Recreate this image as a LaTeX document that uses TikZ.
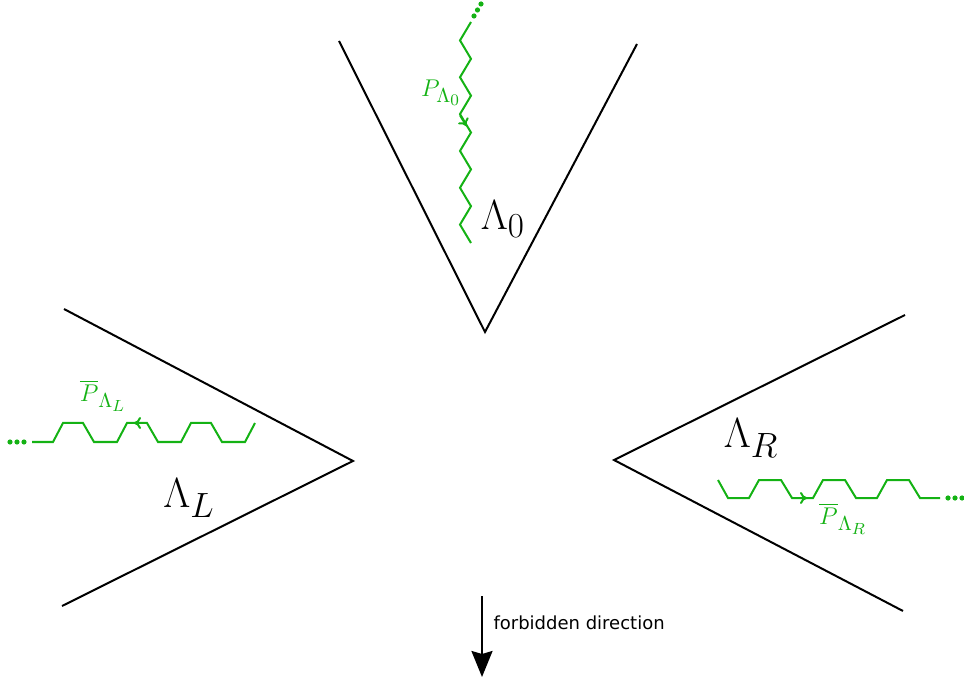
\RequirePackage{fix-cm}
\documentclass[tikz,border=0pt]{standalone}
\usepackage{amsmath}
\usepackage{fontspec}
\newfontfamily\labelfont{DejaVu Sans}
\usepackage{tikz}
\usetikzlibrary{arrows.meta}
\definecolor{wavegreen}{RGB}{20,178,20}
\DeclareMathSizes{12}{12}{10}{8}
\DeclareMathSizes{20.74}{20.74}{17.28}{14.4}

\begin{document}
\begin{tikzpicture}[x=1pt, y=-1pt,
  wedge/.style={line width=2pt, line join=miter},
  wave/.style={line width=2pt, color=wavegreen, line join=miter},
  flow/.style={wave, -{To[length=7pt, width=12pt]}},
  dots/.style={fill=wavegreen, draw=none},
  biglabel/.style={font=\fontsize{20.74}{24}\selectfont, scale=2.03, inner sep=0pt},
  plabel/.style={font=\fontsize{12}{14}\selectfont, scale=2.02, inner sep=0pt, color=wavegreen},
  forbid/.style={-{Stealth[length=26pt, width=21pt, inset=3pt]}, line width=2.2pt}
]
\useasboundingbox (0,0) rectangle (964,684);

%% Wedges — fixed coordinates
\coordinate (top1) at (339,41);  \coordinate (top0) at (485,332);  \coordinate (top2) at (637,44);
\coordinate (left1) at (64,309); \coordinate (left0) at (353,461); \coordinate (left2) at (62,606);
\coordinate (right1) at (905,315); \coordinate (right0) at (614,460); \coordinate (right2) at (903,611);

\draw[wedge] (top1) -- (top0) -- (top2);
\draw[wedge] (left1) -- (left0) -- (left2);
\draw[wedge] (right1) -- (right0) -- (right2);

%% Labels of the wedges
\node[biglabel] at (503,219) (lam0) {$\Lambda_0$};
\node[biglabel] at (189,498) (lamL) {$\Lambda_L$};
\node[biglabel] at (751,438) (lamR) {$\Lambda_R$};

%% Top path (zigzag, downwards)
\coordinate (topstart) at (471,22);
\draw[wave] (topstart) \foreach \k in {1,...,12} {
  -- ({ifthenelse(isodd(\k),460,471)}, {22+18.42*\k}) };
\coordinate (topa) at (460,115.3);
\coordinate (topb) at (466.5,126);
\draw[flow] (topa) -- (topb);
\foreach \d/\y in {474/16, 477.5/10, 481/4}
  \fill[dots] (\d,\y) circle (2.6);
\node[plabel] at (441,93) (pTop) {$P_{\Lambda_0}$};

%% Left path (square wave, leftwards)
\coordinate (leftstart) at (32,442);
\draw[wave] (leftstart) -- (53,442)
  \foreach \k in {0,1,2} { -- ++(10,-19) -- ++(20,0) -- ++(11,19) -- ++(23,0) }
  -- ++(10,-19);
\coordinate (lefta) at (142,423);
\coordinate (leftb) at (134,423);
\draw[flow] (lefta) -- (leftb);
\foreach \d in {10, 17, 24}
  \fill[dots] (\d,442) circle (2.6);
\node[plabel] at (103,396) (pLeft) {$\overline{P}_{\Lambda_L}$};

%% Right path (square wave, rightwards)
\coordinate (rightstart) at (718,480);
\draw[wave] (rightstart) -- ++(10,18)
  \foreach \k in {0,1,2} { -- ++(21,0) -- ++(10,-18) -- ++(22,0) -- ++(11,18) }
  -- ++(20,0);
\coordinate (righta) at (798,498);
\coordinate (rightb) at (807,498);
\draw[flow] (righta) -- (rightb);
\foreach \d in {948, 955, 962}
  \fill[dots] (\d,498) circle (2.6);
\node[plabel] at (843,519) (pRight) {$\overline{P}_{\Lambda_R}$};

%% Forbidden direction
\coordinate (fstart) at (482,596);
\coordinate (fend) at (482,677);
\draw[forbid] (fstart) -- (fend);
\node[anchor=west, font=\labelfont\fontsize{18}{21}\selectfont] at (490,623) (forbidtext) {forbidden direction};
\end{tikzpicture}
\end{document}
